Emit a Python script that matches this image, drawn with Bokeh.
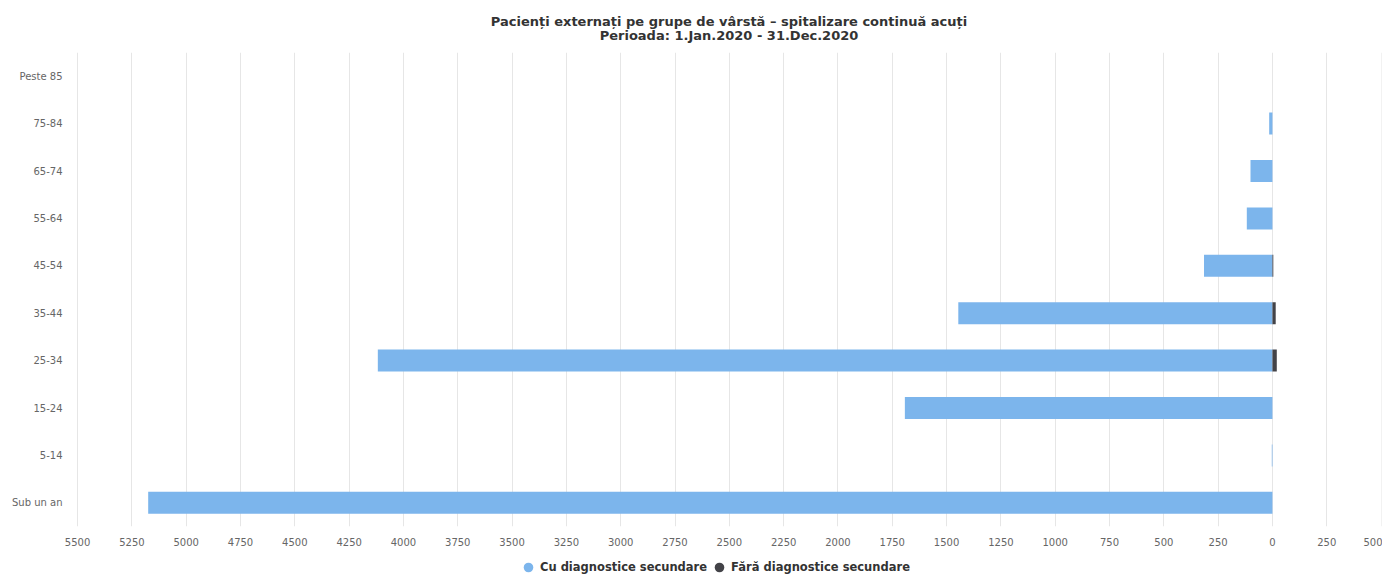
from bokeh.plotting import figure
from bokeh.layouts import column
from bokeh.core.properties import value
from bokeh.models import (Range1d, FactorRange, FixedTicker, Legend,
                          LegendItem, ColumnDataSource)
from bokeh.embed import file_html
from bokeh.resources import INLINE

# Age groups, bottom to top
age_groups = ["Sub un an", "5-14", "15-24", "25-34", "35-44",
              "45-54", "55-64", "65-74", "75-84", "Peste 85"]
# Discharged patients with secondary diagnoses (drawn to the left)
cu_diagnostice = [5175, 3, 1692, 4118, 1446, 315, 118, 101, 15, 0]
# Discharged patients without secondary diagnoses (drawn to the right)
fara_diagnostice = [0, 0, 0, 20, 15, 4, 0, 0, 0, 0]

tick_values = list(range(-5500, 501, 250))

title_lines = ["Pacienți externați pe grupe de vârstă – spitalizare continuă acuți",
               "Perioada: 1.Jan.2020 - 31.Dec.2020"]

FONT = "DejaVu Sans"
BLUE = "#7cb5ec"
DARK = "#434348"
W = 1382

# Header strip with the two centred title lines
head = figure(width=W, height=52, x_range=Range1d(0, W), y_range=Range1d(0, 52),
              output_backend="svg", toolbar_location=None, title=None,
              min_border=0)
head.axis.visible = False
head.grid.grid_line_color = None
head.outline_line_color = None
head.text(x=[W / 2, W / 2], y=[31.5, 17.5], text=title_lines,
          text_align="center", text_baseline="middle",
          text_font=value(FONT), text_font_size="13px",
          text_font_style="bold", text_color="#333333")

src = ColumnDataSource(dict(
    cat=age_groups,
    left_cu=[-v for v in cu_diagnostice],
    right_fara=fara_diagnostice,
    zero=[0] * len(age_groups),
))

p = figure(width=W, height=501,
           x_range=Range1d(-5505, 502),
           y_range=FactorRange(factors=age_groups, range_padding=0),
           output_backend="svg", toolbar_location=None, title=None,
           min_border_left=76, min_border_right=1, min_border_top=0,
           min_border_bottom=27)
p.outline_line_color = None
p.background_fill_color = "white"
p.border_fill_color = "white"

p.hbar(y="cat", left="left_cu", right="zero", height=0.465,
       color=BLUE, line_color=None, source=src)
p.hbar(y="cat", left="zero", right="right_fara", height=0.465,
       color=DARK, line_color=None, source=src)

# x axis: absolute values on both sides of zero
p.xaxis.ticker = FixedTicker(ticks=tick_values)
p.xaxis.major_label_overrides = {t: str(abs(t)) for t in tick_values}
p.xaxis.axis_line_color = None
p.xaxis.major_tick_line_color = None
p.xaxis.minor_tick_line_color = None
p.xaxis.major_label_text_font = FONT
p.xaxis.major_label_text_font_size = "10px"
p.xaxis.major_label_text_color = "#666666"
p.xaxis.major_label_standoff = 5

p.yaxis.axis_line_color = None
p.yaxis.major_tick_line_color = None
p.yaxis.minor_tick_line_color = None
p.yaxis.major_label_text_font = FONT
p.yaxis.major_label_text_font_size = "10px"
p.yaxis.major_label_text_color = "#666666"
p.yaxis.major_label_standoff = 8

p.xgrid.grid_line_color = "#e6e6e6"
p.xgrid.ticker = FixedTicker(ticks=tick_values)
p.ygrid.grid_line_color = None

# Legend strip under the chart
leg = figure(width=W, height=22, x_range=Range1d(0, 1), y_range=Range1d(0, 1),
             output_backend="svg", toolbar_location=None, title=None,
             min_border=0)
leg.axis.visible = False
leg.grid.grid_line_color = None
leg.outline_line_color = None
m_cu = leg.scatter(x=[-5], y=[-5], marker="circle", size=11,
                   color=BLUE, line_color=None)
m_fara = leg.scatter(x=[-5], y=[-5], marker="circle", size=11,
                     color=DARK, line_color=None)
legend = Legend(items=[
    LegendItem(label="Cu diagnostice secundare", renderers=[m_cu]),
    LegendItem(label="Fără diagnostice secundare", renderers=[m_fara]),
], orientation="horizontal", location=(440, -4),
    label_text_font=FONT, label_text_font_size="11.5px",
    label_text_font_style="bold", label_text_color="#333333",
    glyph_width=24, glyph_height=24, label_standoff=0, spacing=0,
    padding=0, margin=0, border_line_color=None,
    background_fill_alpha=0)
leg.add_layout(legend, "center")

open("out.html", "w").write(file_html(column(head, p, leg, spacing=0), INLINE))
